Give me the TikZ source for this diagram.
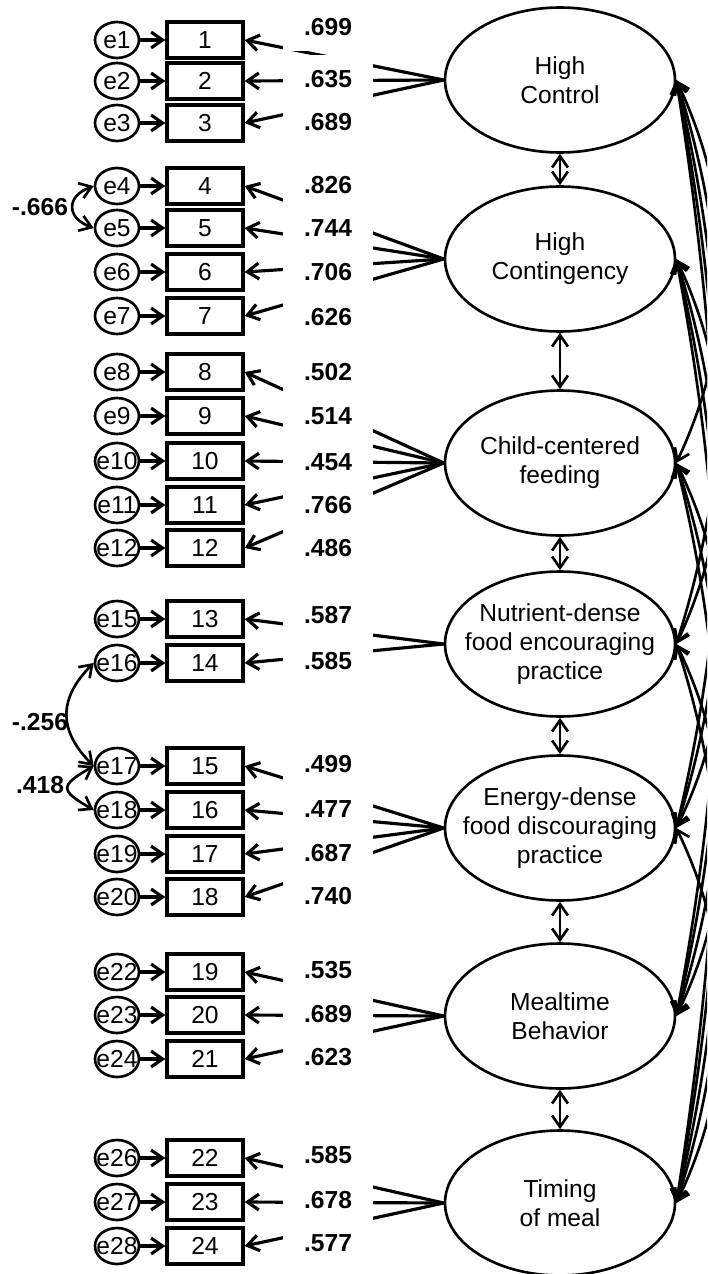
\documentclass[tikz,border=0pt]{standalone}
\usepackage{fontspec}
\setmainfont{Liberation Sans}
\usetikzlibrary{arrows.meta,shapes.geometric}

\begin{document}
\begin{tikzpicture}[x=0.02cm,y=0.02cm,>={Straight Barb[length=6.5pt,width=9pt]},
  every node/.style={font=\fontsize{14}{16.5}\selectfont},
  errnode/.style={draw,ellipse,line width=1.5pt,minimum width=0.88cm,
    minimum height=0.72cm,inner sep=-3pt},
  itembox/.style={draw,rectangle,line width=1.9pt,minimum width=1.52cm,
    minimum height=0.72cm,inner sep=0pt},
  factor/.style={draw,ellipse,line width=1.5pt,minimum width=4.6cm,
    minimum height=2.9cm,inner sep=-9pt,align=center},
  loading/.style={fill=white,font=\fontsize{14}{16.5}\selectfont\bfseries,
    minimum width=1.8cm,minimum height=0.95cm,inner sep=0pt},
  corrlab/.style={font=\fontsize{14}{16.5}\selectfont\bfseries,inner sep=1pt},
  conn/.style={->,line width=1.8pt},
  cov/.style={<->,line width=1.5pt}]

  \useasboundingbox (0,0) rectangle (707,-1274);
  \clip (0,0) rectangle (707,-1274);

  % ── right: latent factors ────────────────────────────────────────
  \node[factor] (HC)  at (560,-80)   {High\\Control};
  \node[factor] (HCt) at (560,-259)  {High\\Contingency};
  \node[factor] (CCF) at (560,-463)  {Child-centered\\feeding};
  \node[factor] (NDF) at (560,-644)  {Nutrient-dense\\food encouraging\\practice};
  \node[factor] (EDF) at (560,-828)  {Energy-dense\\food discouraging\\practice};
  \node[factor] (MB)  at (560,-1016) {Mealtime\\Behavior};
  \node[factor] (TM)  at (560,-1203) {Timing\\of meal};

  % ── left: items, errors, loadings ───────────────────────────────
  \foreach \i/\e/\y/\f in {1/1/40/HC, 2/2/81/HC, 3/3/123/HC,
      4/4/186/HCt, 5/5/228/HCt, 6/6/272/HCt, 7/7/316/HCt,
      8/8/372/CCF, 9/9/416/CCF, 10/10/461/CCF, 11/11/505/CCF, 12/12/548/CCF,
      13/15/619/NDF, 14/16/663/NDF,
      15/17/766/EDF, 16/18/810/EDF, 17/19/854/EDF, 18/20/897/EDF,
      19/22/972/MB, 20/23/1015/MB, 21/24/1059/MB,
      22/26/1158/TM, 23/27/1202/TM, 24/28/1246/TM}{
    \node[itembox] (x\i) at (205,-\y) {\i};
    \node[errnode] (e\e) at (117,-\y) {e\e};
    \draw[conn] (e\e) -- (x\i);
    \draw[conn] (\f.west) -- (x\i.east);
  }

  % loading labels (white boxes hide the middle of the paths)
  \foreach \i/\w/\ly in {1/.699/27, 2/.635/79, 3/.689/122,
      4/.826/185, 5/.744/228, 6/.706/272, 7/.626/317,
      8/.502/372, 9/.514/416, 10/.454/462, 11/.766/505, 12/.486/548,
      13/.587/615, 14/.585/661,
      15/.499/764, 16/.477/809, 17/.687/853, 18/.740/896,
      19/.535/970, 20/.689/1014, 21/.623/1057,
      22/.585/1155, 23/.678/1200, 24/.577/1243}{
    \node[loading] (l\i) at (328,-\ly) {\w};
  }

  % correlated errors
  \draw[cov] (e4.west) to[out=200,in=160,looseness=1.8] (e5.west);
  \node[corrlab] (c45) at (40,-207) {-.666};
  \draw[cov] (e16.west) to[out=225,in=135,looseness=1.25] (e17.west);
  \node[corrlab] (c1617) at (40,-722) {-.256};
  \draw[cov] (e17.west) to[out=210,in=150,looseness=2.3] (e18.west);
  \node[corrlab] (c1718) at (40,-785) {.418};

  % factor covariances
  \draw[cov] (HC) -- (HCt);
  \draw[cov] (HCt) -- (CCF);
  \draw[cov] (CCF) -- (NDF);
  \draw[cov] (NDF) -- (EDF);
  \draw[cov] (EDF) -- (MB);
  \draw[cov] (MB) -- (TM);
  \foreach \a/\b/\v in {HC/CCF/128, HC/NDF/188, HC/EDF/249, HC/MB/312,
      HC/TM/374, HCt/NDF/128, HCt/EDF/190, HCt/MB/252, HCt/TM/315,
      CCF/EDF/122, CCF/MB/184, CCF/TM/247, NDF/MB/124, NDF/TM/186,
      EDF/TM/125}{
    \draw[cov] (\a.east) .. controls +(60,-\v) and +(60,\v) .. (\b.east);
  }

\end{tikzpicture}
\end{document}
